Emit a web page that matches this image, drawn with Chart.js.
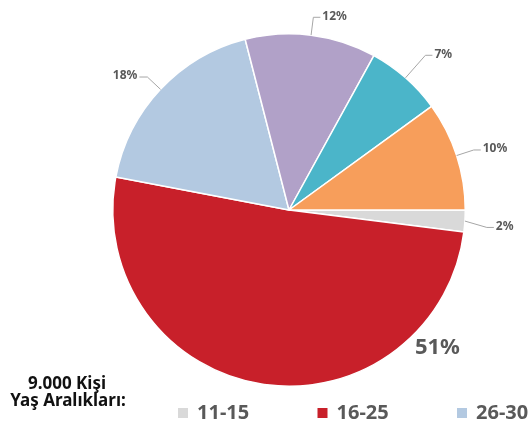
<!DOCTYPE html>
<html>
<head>
<meta charset="utf-8">
<script src="https://cdn.jsdelivr.net/npm/chart.js@4/dist/chart.umd.min.js"></script>
<style>
  html, body { margin: 0; padding: 0; background: #fff; }
  #wrap { width: 531px; height: 428px; position: relative; }
</style>
</head>
<body>
<div id="wrap"><canvas id="chart1"></canvas></div>
<script>
// age groups and their share (percent)
const ageGroups = ['11-15', '16-25', '26-30', '31-35', '36-45', '46+'];
const shares = [2, 51, 18, 12, 7, 10];
const sliceColors = ['#d9d9d9', '#c8202a', '#b3c9e1', '#b1a1c8', '#4bb5c9', '#f79e5b'];
const titleLines = ['9.000 Kişi', 'Yaş Aralıkları:'];

const FONT = '"Noto Sans", "Open Sans", sans-serif';

// percent labels with small leader lines
const labelPlugin = {
  id: 'pieLabels',
  afterDatasetsDraw(chart) {
    const ctx = chart.ctx;
    const meta = chart.getDatasetMeta(0);
    const max = Math.max(...shares);
    ctx.save();
    meta.data.forEach((arc, i) => {
      const v = shares[i];
      const cx = arc.x, cy = arc.y, r = arc.outerRadius;
      const mid = (arc.startAngle + arc.endAngle) / 2;
      ctx.fillStyle = '#595959';
      if (v === max) {
        // big label for the largest slice, outside bottom right
        const a = 42.8 * Math.PI / 180;
        ctx.font = 'bold 22px ' + FONT;
        ctx.textAlign = 'center';
        ctx.textBaseline = 'middle';
        ctx.fillText(v + '%', cx + Math.cos(a) * (r + 26), cy + Math.sin(a) * (r + 26));
        return;
      }
      let ext = 18;
      if (v === 7) ext = 30;
      if (v === 2) ext = 22;
      const x0 = cx + Math.cos(mid) * r, y0 = cy + Math.sin(mid) * r;
      const x1 = cx + Math.cos(mid) * (r + ext), y1 = cy + Math.sin(mid) * (r + ext) + (v === 2 ? 5 : 0);
      const right = Math.cos(mid) >= 0;
      const x2 = x1 + (right ? 7 : -8);
      ctx.strokeStyle = '#a6a6a6';
      ctx.lineWidth = 1;
      ctx.beginPath();
      ctx.moveTo(x0, y0);
      ctx.lineTo(x1, y1);
      ctx.lineTo(x2, y1);
      ctx.stroke();
      ctx.font = 'bold 12px ' + FONT;
      ctx.textAlign = right ? 'left' : 'right';
      ctx.textBaseline = 'middle';
      ctx.fillText(v + '%', x2 + (right ? 2 : -2), y1 - 1);
    });
    ctx.restore();
  }
};

// title at bottom left and the (cut off) legend row
const footerPlugin = {
  id: 'footer',
  afterDraw(chart) {
    const ctx = chart.ctx;
    ctx.save();
    ctx.fillStyle = '#111';
    ctx.font = 'bold 17px ' + FONT;
    ctx.textAlign = 'center';
    ctx.textBaseline = 'alphabetic';
    ctx.fillText(titleLines[0], 67, 389);
    ctx.fillText(titleLines[1], 68, 406);

    ctx.font = 'bold 20px ' + FONT;
    ctx.textAlign = 'left';
    ctx.textBaseline = 'middle';
    ageGroups.forEach((g, i) => {
      const x = 178 + i * 139.5;
      ctx.fillStyle = sliceColors[i];
      ctx.fillRect(x, 408, 10, 10);
      ctx.fillStyle = '#595959';
      ctx.fillText(g, x + 19, 413);
    });
    ctx.restore();
  }
};

new Chart(document.getElementById('chart1'), {
  type: 'pie',
  data: {
    labels: ageGroups,
    datasets: [{
      data: shares,
      backgroundColor: sliceColors,
      borderColor: '#ffffff',
      borderWidth: 1.5
    }]
  },
  options: {
    responsive: true,
    maintainAspectRatio: false,
    animation: false,
    rotation: 90,
    layout: { padding: { top: 33, bottom: 41, left: 112, right: 65 } },
    plugins: {
      legend: { display: false },
      tooltip: { enabled: false }
    }
  },
  plugins: [labelPlugin, footerPlugin]
});
</script>
</body>
</html>
